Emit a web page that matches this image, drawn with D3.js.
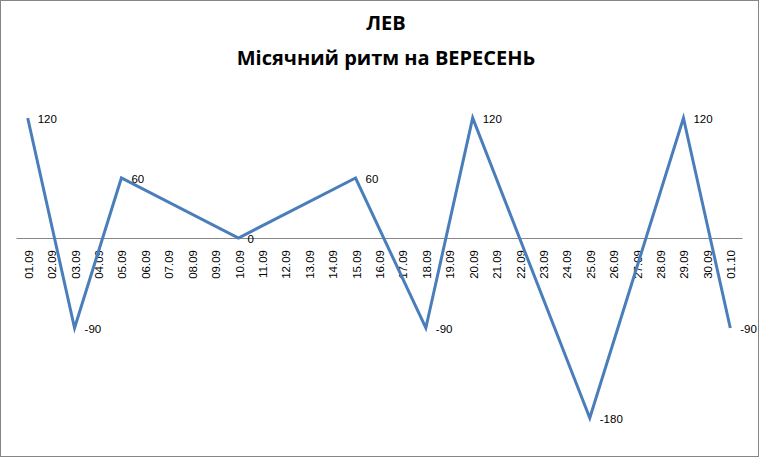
<!DOCTYPE html>
<html><head><meta charset="utf-8">
<script src="https://cdn.jsdelivr.net/npm/d3@7"></script>
<style>body{margin:0;background:#fff}svg{display:block}</style>
</head><body>
<script>
const categories = ["01.09","02.09","03.09","04.09","05.09","06.09","07.09","08.09","09.09","10.09","11.09","12.09","13.09","14.09","15.09","16.09","17.09","18.09","19.09","20.09","21.09","22.09","23.09","24.09","25.09","26.09","27.09","28.09","29.09","30.09","01.10"];
const pointDates = ["01.09","03.09","05.09","10.09","15.09","18.09","20.09","25.09","29.09","01.10"];
const pointValues = [120,-90,60,0,60,-90,120,-180,120,-90];
const titleLines = ["ЛЕВ","Місячний ритм на ВЕРЕСЕНЬ"];

const W=759,H=457;
const svg=d3.select("body").append("svg").attr("width",W).attr("height",H);
svg.append("rect").attr("x",0.5).attr("y",0.5).attr("width",W-1).attr("height",H-1).attr("fill","#fff").attr("stroke","#868686");

const x=d3.scaleBand().domain(categories).range([16,742]);
const y=d3.scaleLinear().domain([-180,120]).range([418,118]);
const font="'Liberation Sans', Arial, sans-serif";

svg.selectAll("text.title").data(titleLines).join("text")
  .attr("x",386).attr("y",(d,i)=>i===0?30:65)
  .attr("text-anchor","middle").attr("font-family","'Open Sans', sans-serif")
  .attr("font-weight","bold").attr("font-size",20).attr("fill","#000").text(d=>d);

// axis
const ax=svg.append("g").attr("transform",`translate(0,${y(0)})`)
  .call(d3.axisBottom(x).tickSize(0).tickPadding(0));
ax.select(".domain").attr("stroke","#868686").attr("stroke-width",1);
ax.selectAll(".tick text").attr("font-family",font).attr("font-size",11.5).attr("fill","#000")
  .attr("transform","rotate(-90)").attr("text-anchor","end").attr("dy","0.35em")
  .attr("x",-12).attr("y",1);

const pts=pointDates.map((d,i)=>({d,v:pointValues[i]}));
const line=d3.line().x(p=>x(p.d)+x.bandwidth()/2).y(p=>y(p.v));
svg.append("path").datum(pts).attr("d",line).attr("fill","none")
  .attr("stroke","#4A7EBB").attr("stroke-width",3).attr("stroke-linejoin","miter");

svg.selectAll("text.lbl").data(pts).join("text")
  .attr("x",p=>x(p.d)+x.bandwidth()/2+(p.v===0?9:10))
  .attr("y",p=>y(p.v)+1).attr("dy","0.35em")
  .attr("font-family",font).attr("font-size",11.5).attr("fill","#000").text(p=>p.v);
</script>
</body></html>
